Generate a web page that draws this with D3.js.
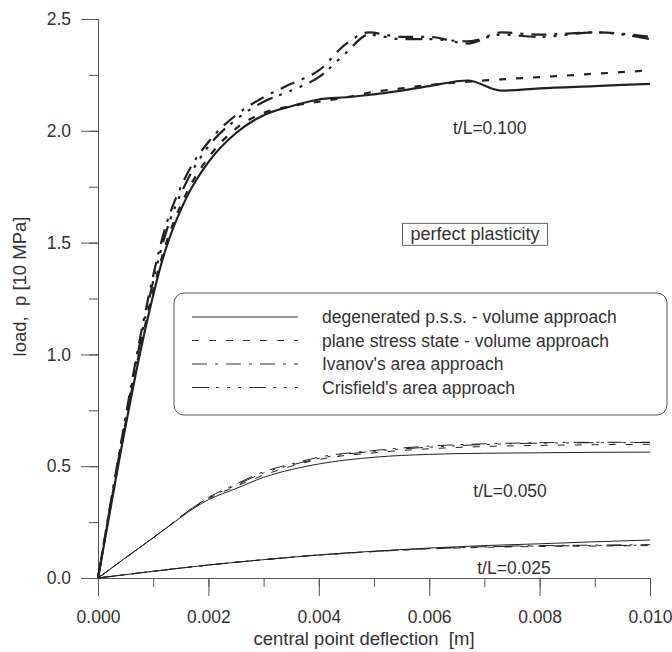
<!DOCTYPE html>
<html>
<head>
<meta charset="utf-8">
<script src="https://cdn.jsdelivr.net/npm/d3@7"></script>
<style>
  body { margin: 0; background: #fff; }
  text { font-family: "Liberation Sans", Arial, sans-serif; fill: #333; }
</style>
</head>
<body>
<div id="chart"></div>
<script>

var margin = {top: 19, right: 22, bottom: 74, left: 98},
    width = 672 - margin.left - margin.right,
    height = 652 - margin.top - margin.bottom;

// legend entries, in drawing order
var seriesNames = [
  "degenerated p.s.s. - volume approach",
  "plane stress state - volume approach",
  "Ivanov's area approach",
  "Crisfield's area approach"
];

// t/L = 0.100
var defl100 = [0, 0.0004, 0.0008, 0.0012, 0.0016, 0.002, 0.0025, 0.003, 0.0035, 0.004, 0.0045, 0.0049, 0.0055, 0.006, 0.0067, 0.0073, 0.008, 0.009, 0.01];
var degen100  = [0, 0.55, 1.05, 1.45, 1.70, 1.86, 1.99, 2.07, 2.11, 2.14, 2.15, 2.16, 2.18, 2.20, 2.225, 2.18, 2.19, 2.20, 2.21];
var plane100  = [0, 0.56, 1.07, 1.47, 1.72, 1.88, 2.01, 2.08, 2.11, 2.13, 2.15, 2.17, 2.19, 2.205, 2.22, 2.23, 2.24, 2.255, 2.27];
var ivanov100 = [0, 0.58, 1.12, 1.55, 1.80, 1.95, 2.07, 2.15, 2.21, 2.27, 2.39, 2.44, 2.42, 2.42, 2.39, 2.44, 2.43, 2.44, 2.42];
var crisf100  = [0, 0.57, 1.10, 1.52, 1.77, 1.93, 2.05, 2.13, 2.18, 2.24, 2.35, 2.43, 2.41, 2.41, 2.40, 2.43, 2.42, 2.44, 2.41];

// t/L = 0.050
var defl050 = [0, 0.001, 0.002, 0.0025, 0.003, 0.0035, 0.004, 0.005, 0.006, 0.007, 0.008, 0.009, 0.01];
var degen050  = [0, 0.18, 0.35, 0.40, 0.45, 0.485, 0.51, 0.54, 0.553, 0.558, 0.56, 0.562, 0.563];
var plane050  = [0, 0.18, 0.355, 0.41, 0.46, 0.50, 0.53, 0.56, 0.578, 0.588, 0.593, 0.596, 0.598];
var ivanov050 = [0, 0.18, 0.36, 0.42, 0.475, 0.51, 0.54, 0.57, 0.59, 0.60, 0.605, 0.607, 0.607];
var crisf050  = [0, 0.18, 0.358, 0.415, 0.47, 0.505, 0.535, 0.567, 0.585, 0.597, 0.603, 0.605, 0.606];

// t/L = 0.025
var defl025 = [0, 0.001, 0.002, 0.003, 0.004, 0.005, 0.006, 0.007, 0.008, 0.009, 0.01];
var degen025  = [0, 0.03, 0.058, 0.082, 0.103, 0.12, 0.134, 0.145, 0.153, 0.162, 0.17];
var plane025  = [0, 0.03, 0.058, 0.082, 0.102, 0.118, 0.13, 0.137, 0.141, 0.143, 0.145];
var ivanov025 = [0, 0.03, 0.058, 0.082, 0.103, 0.119, 0.132, 0.14, 0.145, 0.147, 0.149];
var crisf025  = [0, 0.03, 0.058, 0.082, 0.103, 0.119, 0.131, 0.139, 0.143, 0.145, 0.147];

var yTicks = [0, 0.5, 1.0, 1.5, 2.0, 2.5];
var xTicks = [0, 0.002, 0.004, 0.006, 0.008, 0.010];

// labels placed in data units
var curveLabels = [
  {text: "t/L=0.100", x: 0.00643, p: 1.985},
  {text: "t/L=0.050", x: 0.00680, p: 0.363},
  {text: "t/L=0.025", x: 0.00687, p: 0.018}
];

var dashes = [null, "7,10", "15,8,3,8", "17,7,3,8,3,8,3,8"];

var groups = [
  {x: defl100, ys: [degen100, plane100, ivanov100, crisf100], width: 2.2},
  {x: defl050, ys: [degen050, plane050, ivanov050, crisf050], width: 1},
  {x: defl025, ys: [degen025, plane025, ivanov025, crisf025], width: 1}
];

var x = d3.scaleLinear().domain([0, 0.01]).range([0, width]);
var y = d3.scaleLinear().domain([0, 2.5]).range([height, 0]);

var svg = d3.select("#chart").append("svg")
    .attr("width", width + margin.left + margin.right)
    .attr("height", height + margin.top + margin.bottom)
  .append("g")
    .attr("transform", "translate(" + margin.left + "," + margin.top + ")");

// minor ticks
svg.append("g")
    .attr("class", "axis")
    .call(d3.axisLeft(y).tickValues(d3.range(0, 2.51, 0.25)).tickSize(9).tickFormat(""));
svg.append("g")
    .attr("class", "axis")
    .attr("transform", "translate(0," + height + ")")
    .call(d3.axisBottom(x).tickValues(d3.range(0, 0.01001, 0.001)).tickSize(9).tickFormat(""));

// major ticks
svg.append("g")
    .attr("class", "axis")
    .call(d3.axisLeft(y).tickValues(yTicks).tickSize(17).tickPadding(10).tickFormat(d3.format(".1f")));
svg.append("g")
    .attr("class", "axis")
    .attr("transform", "translate(0," + height + ")")
    .call(d3.axisBottom(x).tickValues(xTicks).tickSize(18).tickPadding(15).tickFormat(d3.format(".3f")));

svg.selectAll(".axis path").attr("stroke", "#555").attr("stroke-width", 1);
svg.selectAll(".axis line").attr("stroke", "#555").attr("stroke-width", 1);
svg.selectAll(".axis text")
    .style("font-family", "'Liberation Sans', Arial, sans-serif")
    .style("font-size", "17.5px")
    .attr("fill", "#333");

// axis titles
svg.append("text")
    .attr("x", width / 2 - 10)
    .attr("y", height + 67)
    .attr("text-anchor", "middle")
    .style("font-size", "18.5px")
    .attr("xml:space", "preserve")
    .text("central point deflection  [m]");

svg.append("text")
    .attr("transform", "translate(" + (-72) + "," + (height / 2 - 12) + ") rotate(-90)")
    .attr("text-anchor", "middle")
    .style("font-size", "18.5px")
    .attr("xml:space", "preserve")
    .text("load,  p [10 MPa]");

// curves
groups.forEach(function(g) {
  g.ys.forEach(function(vals, i) {
    var pts = g.x.map(function(d, k) { return [d, vals[k]]; });
    svg.append("path")
      .datum(pts)
      .attr("fill", "none")
      .attr("stroke", "#222")
      .attr("stroke-width", g.width)
      .attr("stroke-dasharray", dashes[i])
      .attr("d", d3.line()
        .curve(d3.curveMonotoneX)
        .x(function(d) { return x(d[0]); })
        .y(function(d) { return y(d[1]); }));
  });
});

// curve labels
svg.selectAll(".clabel")
  .data(curveLabels)
  .enter().append("text")
    .attr("class", "clabel")
    .attr("x", function(d) { return x(d.x); })
    .attr("y", function(d) { return y(d.p); })
    .style("font-size", "17.5px")
    .text(function(d) { return d.text; });

// perfect plasticity box
var pp = svg.append("g")
    .attr("transform", "translate(" + x(0.00683) + "," + y(1.51) + ")");
var ppText = pp.append("text")
    .attr("text-anchor", "middle")
    .style("font-size", "18px")
    .text("perfect plasticity");
var bb = ppText.node().getBBox();
pp.insert("rect", "text")
    .attr("x", bb.x - 8)
    .attr("y", bb.y - 1)
    .attr("width", bb.width + 16)
    .attr("height", bb.height + 2)
    .attr("fill", "#fff")
    .attr("stroke", "#666")
    .attr("stroke-width", 1);

// legend
var legend = svg.append("g")
    .attr("transform", "translate(" + (174 - margin.left) + "," + (293 - margin.top) + ")");
legend.append("rect")
    .attr("width", 493)
    .attr("height", 122)
    .attr("rx", 10)
    .attr("fill", "#fff")
    .attr("stroke", "#555")
    .attr("stroke-width", 1);

var rows = legend.selectAll(".row")
  .data(seriesNames)
  .enter().append("g")
    .attr("class", "row")
    .attr("transform", function(d, i) { return "translate(0," + (24 + i * 23.5) + ")"; });

rows.append("line")
    .attr("x1", 18)
    .attr("x2", 124)
    .attr("stroke", "#333")
    .attr("stroke-width", 1)
    .attr("stroke-dasharray", function(d, i) { return dashes[i]; });

rows.append("text")
    .attr("x", 148)
    .attr("dy", "0.35em")
    .style("font-size", "17.5px")
    .text(function(d) { return d; });

</script>
</body>
</html>
